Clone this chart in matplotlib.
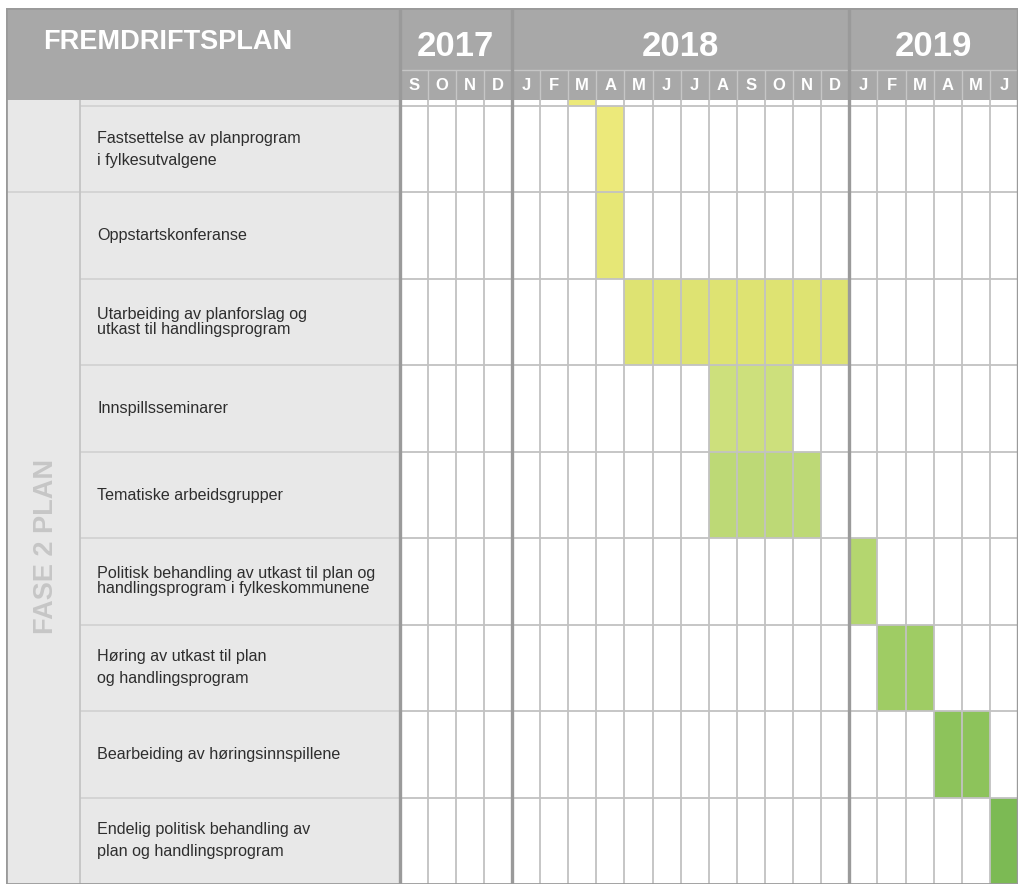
import matplotlib.pyplot as plt
from matplotlib.colors import LinearSegmentedColormap

# Timeline data
years = ['2017', '2018', '2019']
year_months = [4, 12, 6]
months = ['S', 'O', 'N', 'D',
          'J', 'F', 'M', 'A', 'M', 'J', 'J', 'A', 'S', 'O', 'N', 'D',
          'J', 'F', 'M', 'A', 'M', 'J']

tasks = ['Fastsettelse av planprogram\ni fylkesutvalgene',
         'Oppstartskonferanse',
         'Utarbeiding av planforslag og\nutkast til handlingsprogram',
         'Innspillsseminarer',
         'Tematiske arbeidsgrupper',
         'Politisk behandling av utkast til plan og\nhandlingsprogram i fylkeskommunene',
         'Høring av utkast til plan\nog handlingsprogram',
         'Bearbeiding av høringsinnspillene',
         'Endelig politisk behandling av\nplan og handlingsprogram']
task_start = [7, 7, 8, 11, 11, 16, 17, 19, 21]   # month index, 0 = Sep 2017
task_months = [1, 1, 8, 3, 4, 1, 2, 2, 1]
prev_phase_start = 6   # tail of the phase above (Mar 2018)
prev_phase_months = 1
phase_label = 'FASE 2 PLAN'
title = 'FREMDRIFTSPLAN'

# layout (in month / row units)
n_rows = len(tasks)
n_months = len(months)
label_w = 14.0
phase_w = 2.63
strip_h = 0.069
month_h = 0.347
year_h = 0.718
top = -(strip_h + month_h + year_h)

head_bg = '#a8a8a8'
label_bg = '#e8e8e8'
grid_c = '#c2c2c2'
year_c = '#9a9a9a'
cmap = LinearSegmentedColormap.from_list(
    'gantt', ['#ece97a', '#e6e776', '#dee372', '#cde07c', '#bdd976',
              '#b4d66f', '#9fcc64', '#8dc35b', '#7cba54'])

fig = plt.figure(figsize=(10.24, 8.88), dpi=100)
ax = fig.add_axes([6 / 1024, 4 / 888, 1012 / 1024, 876 / 888])
ax.set_xlim(-label_w, n_months)
ax.set_ylim(n_rows, top)
ax.axis('off')

# backgrounds
ax.axvspan(-label_w, 0, color=label_bg, lw=0, zorder=0)
ax.axhspan(top, -strip_h, color=head_bg, lw=0, zorder=1)

# bars
rows = list(range(n_rows))
colors = [cmap(r / (n_rows - 1)) for r in rows]
ax.barh(rows, task_months, left=task_start, height=1.0, align='edge',
        color=colors, lw=0, zorder=2)
ax.barh([-strip_h], [prev_phase_months], left=[prev_phase_start], height=strip_h,
        align='edge', color=cmap(0.0), lw=0, zorder=2)

# body grid
ax.vlines(range(1, n_months), -strip_h, n_rows, color=grid_c, lw=1.3, zorder=3)
ax.hlines(range(n_rows), 0, n_months, color=grid_c, lw=1.3, zorder=3)
ax.hlines(range(n_rows), -label_w + phase_w, 0, color='#d2d2d2', lw=1.3, zorder=3)
ax.hlines(1, -label_w, -label_w + phase_w, color='#d2d2d2', lw=1.3, zorder=3)
ax.vlines(-label_w + phase_w, -strip_h, n_rows, color='#c4c4c4', lw=1.3, zorder=3)

# header grid
ax.vlines(range(1, n_months), -strip_h - month_h, -strip_h, color='#c6c6c6', lw=1.0, zorder=3)
ax.hlines(-strip_h - month_h, 0, n_months, color='#c6c6c6', lw=1.0, zorder=3)

# year separators and frame
edges = [0]
for n in year_months:
    edges.append(edges[-1] + n)
ax.vlines(edges, top, n_rows, color=year_c, lw=2.4, zorder=4)
ax.vlines(-label_w, top, n_rows, color=year_c, lw=2.0, zorder=4)
ax.hlines([top, n_rows], -label_w, n_months, color=year_c, lw=2.0, zorder=4)

# header text
bold = dict(family=['Liberation Sans', 'DejaVu Sans'], weight='bold', color='white')
ax.text(-label_w + 1.32, top + year_h * 0.55, title, fontsize=19.5,
        ha='left', va='center', zorder=5, **bold)
for i, y in enumerate(years):
    ax.text((edges[i] + edges[i + 1]) / 2, top + year_h * 0.62, y, fontsize=25,
            ha='center', va='center', zorder=5, **bold)
for i, m in enumerate(months):
    ax.text(i + 0.5, -strip_h - month_h / 2, m, fontsize=12,
            ha='center', va='center', zorder=5, **bold)

# row labels
tight = [2, 5]
for r, t in zip(rows, tasks):
    ax.text(-label_w + 3.24, r + 0.5, t, fontsize=11.6, family=['Liberation Sans', 'DejaVu Sans'],
            color='#2e2e2e', ha='left', va='center',
            linespacing=1.0 if r in tight else 1.6, zorder=5)

ax.text(-label_w + phase_w / 2 + 0.12, (1 + n_rows) / 2 + 0.1, phase_label, rotation=90,
        fontsize=19.5, weight='bold', color='#c6c6c6', family=['Liberation Sans', 'DejaVu Sans'],
        ha='center', va='center', zorder=5)

fig.savefig('out.png', dpi=100, facecolor='white')
